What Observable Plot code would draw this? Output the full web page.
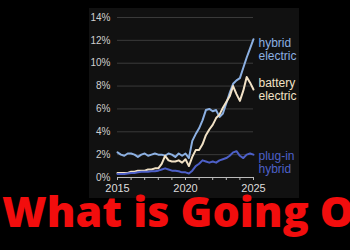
<!DOCTYPE html>
<html>
<head>
<meta charset="utf-8">
<script src="https://cdn.jsdelivr.net/npm/d3@7"></script>
<script src="https://cdn.jsdelivr.net/npm/@observablehq/plot@0.6"></script>
<style>
  html, body { margin: 0; padding: 0; background: #000; width: 350px; height: 250px; overflow: hidden; }
  #chart { position: absolute; left: 89px; top: 8px; }
  #title { position: absolute; left: 2px; top: 189px; font-family: "Open Sans", sans-serif; font-weight: 800;
           font-size: 43px; color: #f20d0d; white-space: nowrap; line-height: 1; }
</style>
</head>
<body>
<div id="chart"></div>
<div id="title">What is Going On</div>
<script>
const quarters = d3.range(0, 41).map(i => 2015 + i * 0.25);
const hybridElectric = [
  2.2, 2.0, 1.9, 2.1,
  2.1, 2.0, 1.8, 2.0,
  2.1, 1.9, 2.0, 2.1,
  2.0, 2.0, 1.9, 2.1,
  2.0, 1.8, 2.1, 1.9,
  2.1, 1.7, 3.2, 3.8,
  4.3, 5.0, 5.9, 6.0,
  5.8, 5.9, 5.3, 5.6,
  6.5, 7.4, 8.2, 8.5,
  8.7, 9.6, 10.5, 11.3,
  12.1
];
const batteryElectric = [
  0.4, 0.4, 0.4, 0.4,
  0.5, 0.5, 0.6, 0.6,
  0.6, 0.7, 0.7, 0.8,
  0.8, 1.2, 1.9, 1.5,
  1.4, 1.4, 1.5, 1.3,
  1.6, 1.0, 1.8, 2.4,
  2.4, 2.9, 3.7, 4.2,
  4.6, 5.2, 5.5, 6.1,
  6.6, 7.1, 8.0, 7.3,
  6.7, 7.6, 8.8, 8.3,
  7.7
];
const plugInHybrid = [
  0.3, 0.3, 0.3, 0.35,
  0.4, 0.4, 0.45, 0.5,
  0.5, 0.5, 0.55, 0.55,
  0.6, 0.7, 0.8, 0.7,
  0.6, 0.6, 0.55, 0.45,
  0.45, 0.35, 0.6, 1.0,
  1.2, 1.5, 1.4, 1.3,
  1.4, 1.3, 1.5, 1.6,
  1.7, 1.9, 2.2, 2.3,
  1.9, 1.7, 2.0, 2.1,
  2.0
];
const seriesNames = ["hybrid electric", "battery electric", "plug-in hybrid"];
const seriesLabels = ["hybrid\nelectric", "battery\nelectric", "plug-in\nhybrid"];
const seriesColors = ["#8cb0e2", "#f2e2c6", "#4d60c8"];
const yTicks = [0, 2, 4, 6, 8, 10, 12, 14];
const xLabelTicks = [2015, 2020, 2025];
const yearTicks = d3.range(2015, 2026);

const seriesValues = [hybridElectric, batteryElectric, plugInHybrid];
const rows = seriesNames.flatMap((name, s) =>
  quarters.map((q, i) => ({series: name, date: q, value: seriesValues[s][i]})));
const ends = seriesNames.map((name, s) => ({
  series: name, label: seriesLabels[s], date: quarters[quarters.length - 1],
  value: seriesValues[s][quarters.length - 1]
}));
const labelOffsets = [10, 0, 8];

const plot = Plot.plot({
  width: 210,
  height: 190,
  marginLeft: 28,
  marginRight: 46,
  marginTop: 9,
  marginBottom: 21,
  style: {background: "#111111", color: "#cccccc", fontFamily: "Liberation Sans, Arial, sans-serif", overflow: "visible"},
  x: {domain: [2015, 2025]},
  y: {domain: [0, 14]},
  color: {domain: seriesNames, range: seriesColors},
  marks: [
    Plot.gridY(yTicks.filter(d => d > 0), {stroke: "#3a3a3a", strokeOpacity: 1, strokeWidth: 1}),
    Plot.axisY(yTicks, {tickSize: 0, tickPadding: 7, fontSize: 10, fill: "#cfcfcf", tickFormat: d => d + "%", label: null}),
    Plot.ruleY([0], {stroke: "#bbbbbb", strokeWidth: 1}),
    Plot.axisX(yearTicks, {tickSize: 3, tickPadding: 4, stroke: "#bbbbbb", fontSize: 11, fill: "#dddddd",
      tickFormat: d => xLabelTicks.includes(d) ? String(d) : "", label: null}),
    Plot.line(rows, {x: "date", y: "value", z: "series", stroke: "series", strokeWidth: 2, curve: "linear"}),
    ...ends.map((e, s) => Plot.text([e], {x: "date", y: "value", text: "label", fill: seriesColors[s],
      textAnchor: "start", dx: 5, dy: labelOffsets[s], fontSize: 12, lineHeight: 1.1, fontWeight: 500}))
  ]
});
document.getElementById("chart").appendChild(plot);
</script>
</body>
</html>
